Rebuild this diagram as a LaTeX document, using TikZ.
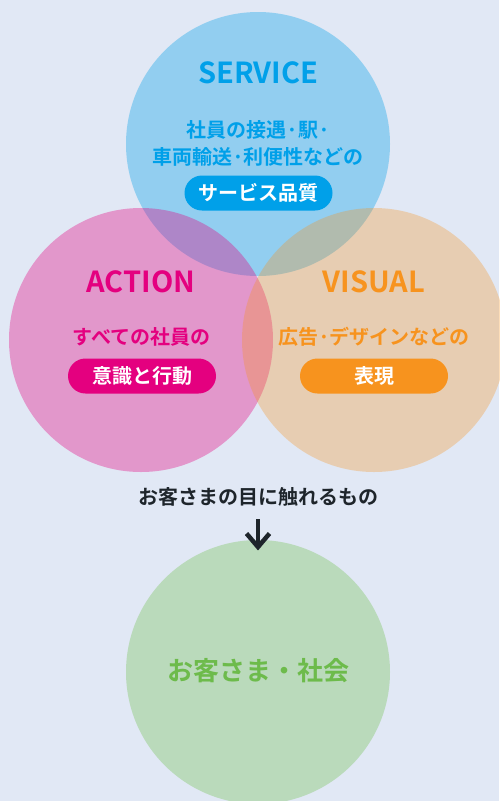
\documentclass[tikz,border=0pt]{standalone}
\usepackage{fontspec}
\newfontfamily\jp{Noto Sans CJK JP Bold}
\definecolor{bg}{HTML}{E1E8F5}
\definecolor{cblue}{HTML}{00A0E9}
\definecolor{cpink}{HTML}{E4007F}
\definecolor{corange}{HTML}{F7931E}
\definecolor{cgreenfill}{HTML}{BADABB}
\definecolor{cgreentext}{HTML}{6DBB4B}
\definecolor{cdark}{HTML}{1E252B}
\tikzset{
  circ/.style={fill opacity=0.35, draw=none},
  title/.style={font=\jp\fontsize{29}{29}\selectfont, text height=21.5pt, text depth=0pt, inner sep=0pt},
  jtxt/.style={font=\jp\fontsize{20}{27}\selectfont, text height=17.6pt, text depth=2.4pt, inner sep=0pt, align=center},
  pill/.style={jtxt, text=white, rounded corners=17.5pt, minimum width=148pt, minimum height=35pt},
}
\begin{document}
\begin{tikzpicture}[x=1pt,y=-1pt]
\fill[bg] (0,0) rectangle (499,801);
\useasboundingbox (0,0) rectangle (499,801);
% circles
\fill[cblue, circ] (258,144) circle[radius=132pt];
\fill[cpink, circ] (141,340) circle[radius=132pt];
\fill[corange, circ, fill opacity=0.31] (374,340) circle[radius=132pt];
\fill[cgreenfill] (258,672) circle[radius=132pt];
% SERVICE
\node[title, text=cblue] (svc) at (258,73) {SERVICE};
\node[jtxt, text=cblue] (svc1) at (258,130) {社員の接遇·駅·};
\node[jtxt, text=cblue] (svc2) at (258,157) {車両輸送·利便性などの};
\node[pill, fill=cblue] (svcp) at (258.5,193) {サービス品質};
% ACTION
\node[title, text=cpink] (act) at (141,282) {ACTION};
\node[jtxt, text=cpink] (act1) at (141.5,337) {すべての社員の};
\node[pill, fill=cpink] (actp) at (142,376) {意識と行動};
% VISUAL
\node[title, text=corange] (vis) at (374,282) {VISUAL};
\node[jtxt, text=corange] (vis1) at (374,337) {広告·デザインなどの};
\node[pill, fill=corange] (visp) at (374,376) {表現};
% bottom
\node[jtxt, text=cdark] (eyes) at (258,497) {お客さまの目に触れるもの};
\coordinate (atop) at (258,519);
\coordinate (abot) at (258,546);
\draw[cdark, line width=4.5pt] (atop) -- (abot);
\draw[cdark, line width=4.5pt, line cap=butt] ([xshift=-11.5pt,yshift=12.5pt]abot) -- ([yshift=-1pt]abot) -- ([xshift=11.5pt,yshift=12.5pt]abot);
\node[jtxt, font=\jp\fontsize{26}{26}\selectfont, text height=22.9pt, text depth=3.1pt, text=cgreentext] (soc) at (258,671) {お客さま・社会};
\end{tikzpicture}
\end{document}
